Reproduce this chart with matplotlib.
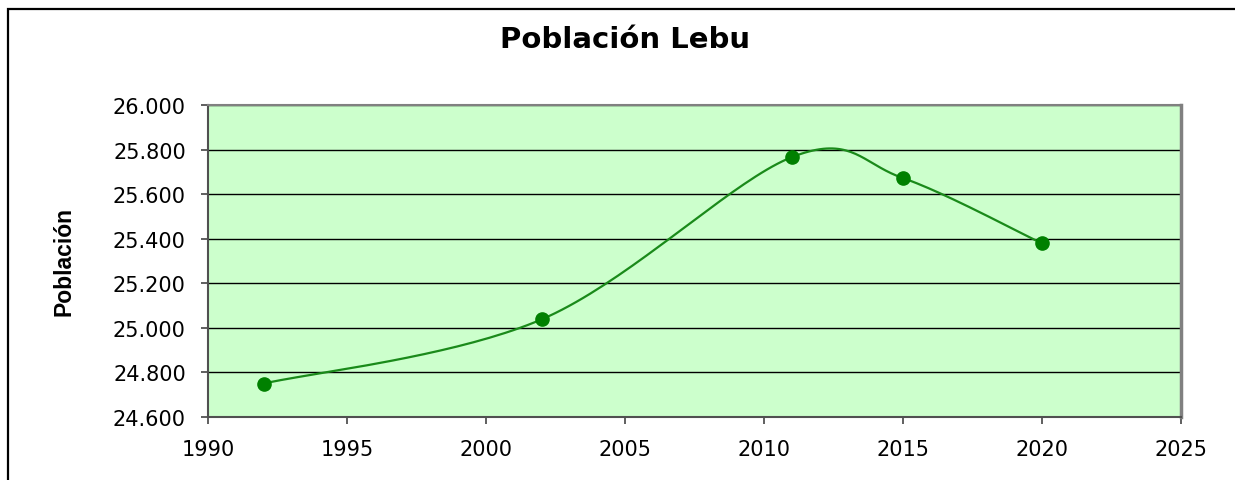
import matplotlib
matplotlib.use('Agg')
import matplotlib.pyplot as plt
import matplotlib.ticker as mtick
from matplotlib.patches import Rectangle
import numpy as np

plt.rcParams['font.family'] = ['DejaVu Sans']

# data
years = [1992, 2002, 2011, 2015, 2020]
poblacion = [24750, 25038, 25766, 25672, 25379]
x_ticks = [1990, 1995, 2000, 2005, 2010, 2015, 2020, 2025]
y_ticks = [24600, 24800, 25000, 25200, 25400, 25600, 25800, 26000]


def smooth(xs, ys, n=40):
    # Excel-like smoothed line: cubic Bezier segments (Catmull-Rom handles)
    xs = np.asarray(xs, float)
    ys = np.asarray(ys, float)
    px = np.concatenate([[xs[0]], xs, [xs[-1]]])
    py = np.concatenate([[ys[0]], ys, [ys[-1]]])
    out_x, out_y = [], []
    t = np.linspace(0, 1, n)
    for i in range(1, len(px) - 2):
        p0, p1, p2, p3 = [np.array([px[j], py[j]]) for j in (i - 1, i, i + 1, i + 2)]
        c1 = p1 + (p2 - p0) / 6
        c2 = p2 - (p3 - p1) / 6
        b = ((1 - t) ** 3)[:, None] * p1 + (3 * (1 - t) ** 2 * t)[:, None] * c1 \
            + (3 * (1 - t) * t ** 2)[:, None] * c2 + (t ** 3)[:, None] * p2
        out_x.extend(b[:, 0])
        out_y.extend(b[:, 1])
    return out_x, out_y


fig = plt.figure(figsize=(12.35, 4.81), dpi=100)
ax = fig.add_axes([208 / 1235, 1 - 418 / 481, (1181 - 208) / 1235, (418 - 106) / 481])

# outer border (only left/top visible in the original crop)
fig.patches.append(Rectangle((8 / 1235, -0.1), 1.2, 1 - 10 / 481 + 0.1,
                             transform=fig.transFigure, fill=False,
                             edgecolor='black', linewidth=1.6))

ax.set_facecolor('#CCFFCC')
sx, sy = smooth(years, poblacion)
ax.plot(sx, sy, color='#1a8a1a', linewidth=1.6, zorder=3)
ax.plot(years, poblacion, 'o', color='#008000', markersize=9.5, zorder=4)

ax.set_xlim(1990, 2025)
ax.set_ylim(24600, 26000)
ax.set_xticks(x_ticks)
ax.set_yticks(y_ticks)
ax.yaxis.set_major_formatter(mtick.FuncFormatter(lambda v, p: f'{int(v):,}'.replace(',', '.')))
ax.yaxis.grid(True, color='black', linewidth=1.0)
ax.set_axisbelow(True)

for s in ax.spines.values():
    s.set_color('#808080')
    s.set_linewidth(1.5)
ax.spines['left'].set_color('#505050')
ax.spines['bottom'].set_color('#505050')
ax.spines['right'].set_linewidth(2.5)

ax.tick_params(axis='both', direction='out', length=5, width=1.2, color='#444444',
               labelsize=15, labelcolor='black')
ax.tick_params(axis='x', pad=11)
ax.tick_params(axis='y', pad=11)

fig.text(625 / 1235, 1 - 40 / 481, 'Población Lebu', ha='center', va='center',
         fontsize=21, fontweight='bold')
fig.text(64 / 1235, 1 - 262 / 481, 'Población', ha='center', va='center', rotation=90,
         fontsize=16.5, fontweight='bold', family=['Liberation Sans'])

fig.savefig('out.png', dpi=100)
